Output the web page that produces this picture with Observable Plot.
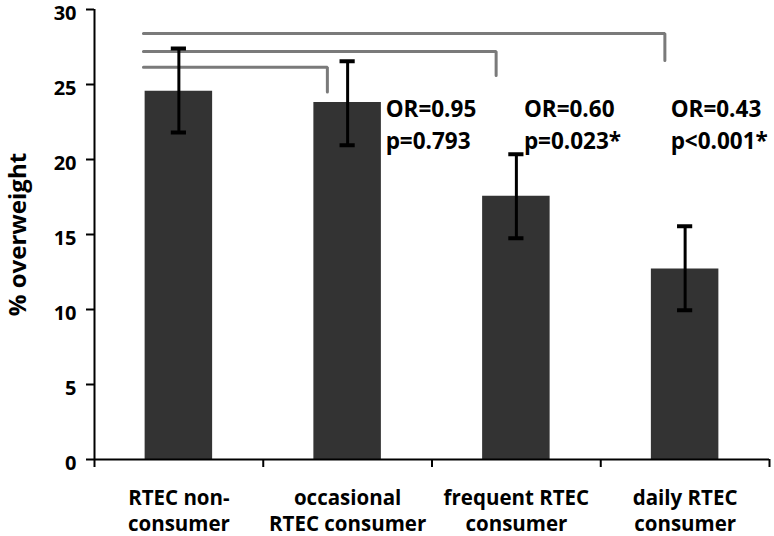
<!DOCTYPE html>
<html><head><meta charset="utf-8">
<script src="https://cdn.jsdelivr.net/npm/d3@7"></script>
<script src="https://cdn.jsdelivr.net/npm/@observablehq/plot@0.6"></script>
<style>html,body{margin:0;padding:0;background:#fff} svg{display:block}</style>
</head><body><div id="chart"></div>
<script>
// Data
const categories = ["RTEC non-\nconsumer", "occasional\nRTEC consumer", "frequent RTEC\nconsumer", "daily RTEC\nconsumer"];
const overweight = [24.55, 23.8, 17.55, 12.7];
const ciLow = [21.8, 20.95, 14.75, 9.95];
const ciHigh = [27.4, 26.55, 20.35, 15.55];
const yTicks = [0, 5, 10, 15, 20, 25, 30];
const comparisonTarget = [1, 2, 3];
const bracketLevel = [26.15, 27.2, 28.4];
const bracketDrop = [24.5, 25.6, 26.6];
const oddsRatios = ["OR=0.95", "OR=0.60", "OR=0.43"];
const pValues = ["p=0.793", "p=0.023*", "p<0.001*"];
const yLabel = "% overweight";

// layout helpers (not data)
const idx = categories.map((_, i) => i);
const boundaries = [-0.5, ...idx.map(i => i + 0.5)];
const half = 0.2, cap = 0.045;
const capData = idx.flatMap(i => [{i, v: ciLow[i]}, {i, v: ciHigh[i]}]);
const bracketPts = comparisonTarget.flatMap((t, k) => [
  {k, x: -0.21, y: bracketLevel[k]},
  {k, x: t - 0.12, y: bracketLevel[k]},
  {k, x: t - 0.12, y: bracketDrop[k]}
]);
const annDx = [38, 7.5, -14.5];
const annY = 24.3;

const chart = Plot.plot({
  width: 774,
  height: 536,
  marginTop: 9,
  marginBottom: 77,
  marginLeft: 94,
  marginRight: 5,
  style: {fontFamily: "'Open Sans', sans-serif", color: "black", background: "white"},
  x: {type: "linear", domain: [-0.5, 3.5]},
  y: {domain: [0, 30]},
  marks: [
    Plot.rect(overweight, {x1: (d, i) => i - half, x2: (d, i) => i + half, y1: 0, y2: d => d, fill: "#333333"}),
    Plot.line(bracketPts, {x: "x", y: "y", z: "k", stroke: "#7a7a7a", strokeWidth: 3, strokeLinejoin: "miter"}),
    Plot.ruleX(idx, {x: i => i, y1: i => ciLow[i], y2: i => ciHigh[i], stroke: "black", strokeWidth: 3}),
    Plot.ruleY(capData, {y: "v", x1: d => d.i - cap, x2: d => d.i + cap, stroke: "black", strokeWidth: 4}),
    ...comparisonTarget.map((t, k) => Plot.text([oddsRatios[k] + "\n" + pValues[k]], {
      x: t, y: annY, dx: annDx[k], text: d => d, textAnchor: "start", lineAnchor: "top",
      lineHeight: 1.4, fontSize: 22.5, fontWeight: "bold", fill: "black"
    })),
    Plot.axisY(yTicks, {tickSize: 8, tickFormat: () => "", strokeWidth: 2, label: null}),
    Plot.axisY(yTicks, {tickSize: 0, tickPadding: 18, dy: 4, fontSize: 20, fontWeight: "bold", label: null}),
    Plot.axisX(idx, {tickSize: 0, tickPadding: 27, tickFormat: i => categories[i], fontSize: 20.5, fontWeight: "bold", lineHeight: 1.28, label: null}),
    Plot.axisX(boundaries, {tickSize: 8, tickFormat: () => "", strokeWidth: 2, label: null}),
    Plot.ruleX([-0.5], {y1: 0, y2: 30, stroke: "black", strokeWidth: 2}),
    Plot.ruleY([0], {x1: -0.5, x2: 3.5, stroke: "black", strokeWidth: 2}),
    Plot.text([yLabel], {frameAnchor: "left", textAnchor: "middle", lineAnchor: "middle", rotate: -90, dx: -76, text: d => d, fontSize: 24, fontWeight: "bold", fill: "black"})
  ]
});
document.getElementById("chart").appendChild(chart);
</script>
</body></html>
